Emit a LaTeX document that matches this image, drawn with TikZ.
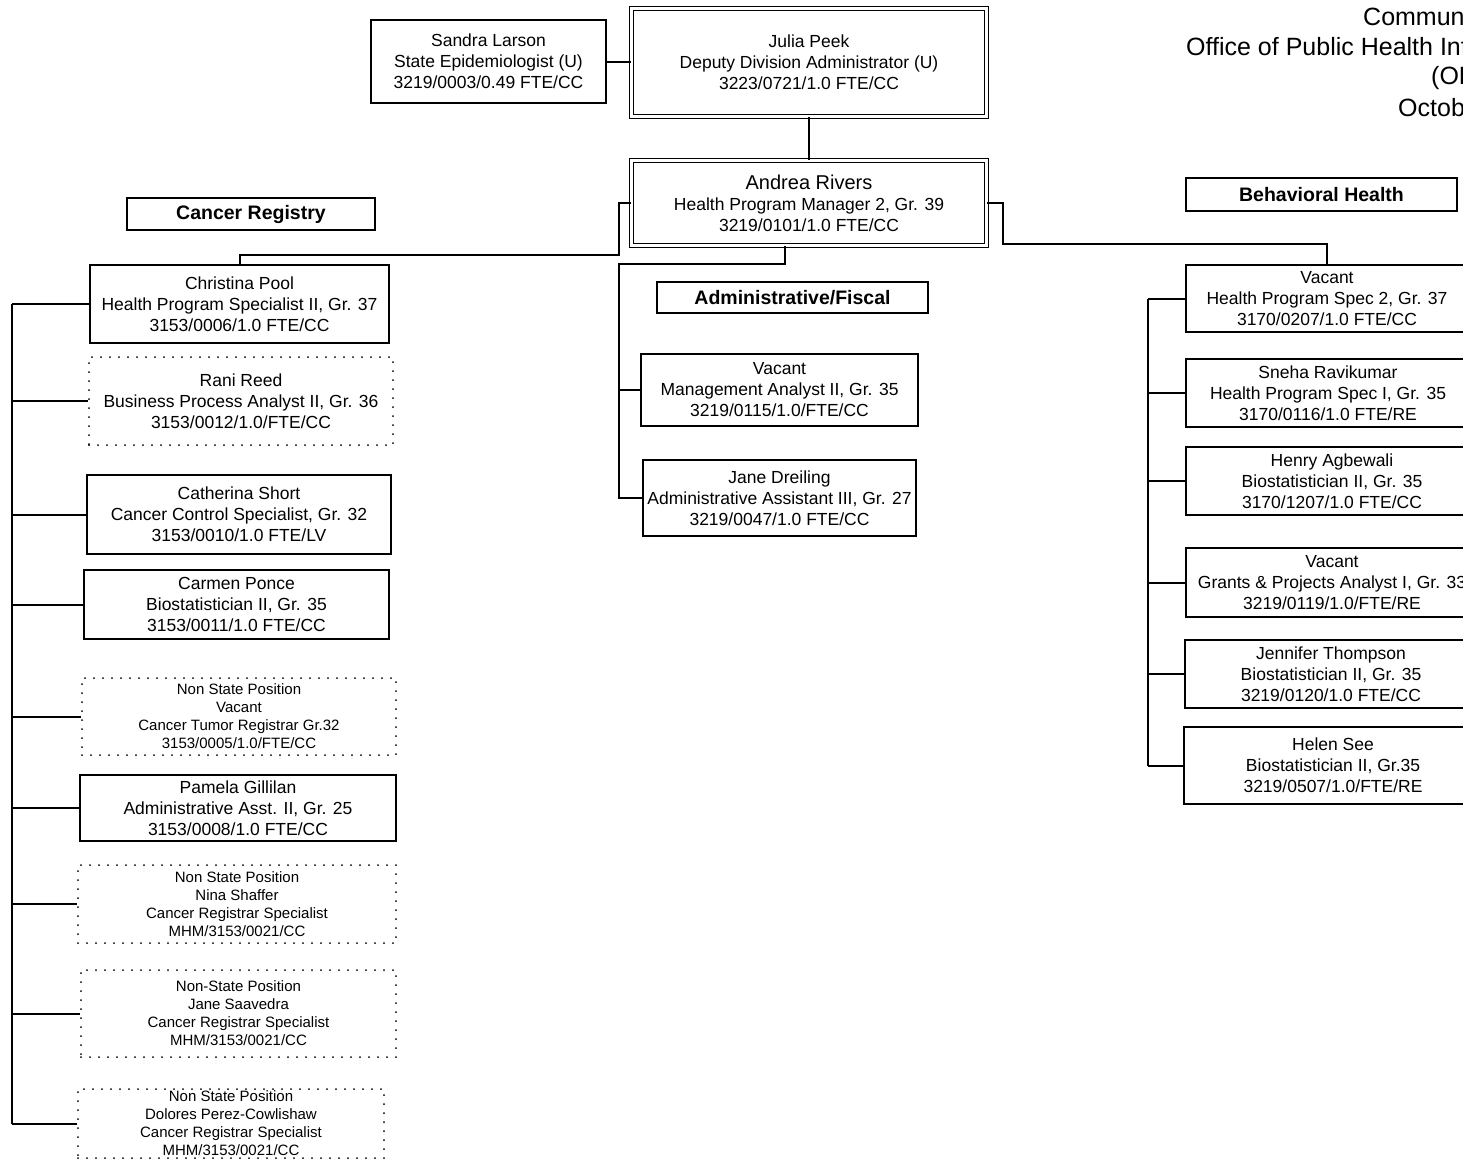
\documentclass[tikz,border=0pt]{standalone}
\usepackage{fontspec}
\setmainfont{Liberation Sans}
\newcommand\ocmf{\fontsize{17.5}{21}\selectfont}
\newcommand\ocsf{\fontsize{15}{18}\selectfont}
\newcommand\ochf{\fontsize{19.5}{22}\selectfont\bfseries}
\newcommand\octf{\fontsize{25}{30}\selectfont}
\begin{document}
\begin{tikzpicture}[x=1pt,y=-1pt,
  pbox/.style={draw, line width=2pt, align=center, inner sep=0pt, font=\ocmf},
  dbox/.style={draw, line width=2pt, dash pattern=on 0pt off 9pt, line cap=round, align=center, inner sep=0pt, font=\ocsf},
  dboxm/.style={dbox, font=\ocmf},
  dblbox/.style={draw, double, line width=1.6pt, double distance=2.6pt, align=center, inner sep=0pt, font=\ocmf},
  hbox/.style={draw, line width=1.6pt, inner sep=0pt, font=\ochf},
  conn/.style={line width=2pt},
  ttl/.style={anchor=west, inner sep=0pt, font=\octf}]
\useasboundingbox (0,0) rectangle (1463,1160);

% title (cut at page edge)
\node[ttl] (t1) at (1363,17) {Commun};
\node[ttl] (t2) at (1186,47) {Office of Public Health Inf};
\node[ttl] (t3) at (1431,78) {(OP};
\node[ttl] (t4) at (1398,108) {Octob};

% top
\node[pbox, minimum width=235, minimum height=83] (sl) at (488.5,61.5) {Sandra Larson\\State Epidemiologist (U)\\3219/0003/0.49 FTE/CC};
\node[dblbox, minimum width=355, minimum height=108] (jp) at (809,62.5) {Julia Peek\\Deputy Division Administrator (U)\\3223/0721/1.0 FTE/CC};
\node[dblbox, minimum width=355, minimum height=85] (ar) at (809,203) {{\fontsize{20}{23}\selectfont Andrea Rivers}\\Health Program Manager 2, Gr. 39\\3219/0101/1.0 FTE/CC};

% headers
\node[hbox, minimum width=248, minimum height=32] (cr) at (251,214) {Cancer Registry};
\node[hbox, minimum width=271, minimum height=31] (af) at (792.5,297.5) {Administrative/Fiscal};
\node[hbox, minimum width=271, minimum height=33] (bh) at (1321.5,194.5) {Behavioral Health};

% cancer registry
\node[pbox, minimum width=299, minimum height=78] (cp) at (239.5,304) {Christina Pool\\Health Program Specialist II, Gr. 37\\3153/0006/1.0 FTE/CC};
\node[dboxm, minimum width=304, minimum height=88] (rr) at (241,401) {Rani Reed\\Business Process Analyst II, Gr. 36\\3153/0012/1.0/FTE/CC};
\node[pbox, minimum width=304, minimum height=79] (cs) at (239,514.5) {Catherina Short\\Cancer Control Specialist, Gr. 32\\3153/0010/1.0 FTE/LV};
\node[pbox, minimum width=305, minimum height=69] (cpo) at (236.5,604.5) {Carmen Ponce\\Biostatistician II, Gr. 35\\3153/0011/1.0 FTE/CC};
\node[dbox, minimum width=314, minimum height=77] (nv) at (239,716.5) {Non State Position\\Vacant\\Cancer Tumor Registrar Gr.32\\3153/0005/1.0/FTE/CC};
\node[pbox, minimum width=316, minimum height=66] (pg) at (238,808) {Pamela Gillilan\\Administrative Asst. II, Gr. 25\\3153/0008/1.0 FTE/CC};
\node[dbox, minimum width=318, minimum height=78] (ns) at (237,904) {Non State Position\\Nina Shaffer\\Cancer Registrar Specialist\\MHM/3153/0021/CC};
\node[dbox, minimum width=315, minimum height=87] (js) at (238.5,1013.5) {Non-State Position\\Jane Saavedra\\Cancer Registrar Specialist\\MHM/3153/0021/CC};
\node[dbox, minimum width=306, minimum height=69] (dp) at (231,1123.5) {Non State Position\\Dolores Perez-Cowlishaw\\Cancer Registrar Specialist\\MHM/3153/0021/CC};

% administrative/fiscal
\node[pbox, minimum width=277, minimum height=72] (ma) at (779.5,390) {Vacant\\Management Analyst II, Gr. 35\\3219/0115/1.0/FTE/CC};
\node[pbox, minimum width=273, minimum height=76] (jd) at (779.5,498) {Jane Dreiling\\Administrative Assistant III, Gr. 27\\3219/0047/1.0 FTE/CC};

% behavioral health
\node[pbox, minimum width=282, minimum height=67] (r1) at (1327,298.5) {Vacant\\Health Program Spec 2, Gr. 37\\3170/0207/1.0 FTE/CC};
\node[pbox, minimum width=284, minimum height=68] (r2) at (1328,393) {Sneha Ravikumar\\Health Program Spec I, Gr. 35\\3170/0116/1.0 FTE/RE};
\node[pbox, minimum width=292, minimum height=68] (r3) at (1332,481) {Henry Agbewali\\Biostatistician II, Gr. 35\\3170/1207/1.0 FTE/CC};
\node[pbox, minimum width=292, minimum height=69] (r4) at (1332,582.5) {Vacant\\Grants \& Projects Analyst I, Gr. 33\\3219/0119/1.0/FTE/RE};
\node[pbox, minimum width=292, minimum height=68] (r5) at (1331,674) {Jennifer Thompson\\Biostatistician II, Gr. 35\\3219/0120/1.0 FTE/CC};
\node[pbox, minimum width=298, minimum height=77] (r6) at (1333,765.5) {Helen See\\Biostatistician II, Gr.35\\3219/0507/1.0/FTE/RE};

% connectors top
\draw[conn] (sl.east) -- (sl.east -| jp.west);
\draw[conn] (jp.south) -- (ar.north);

% to cancer registry
\coordinate (crj) at (cp.north |- 0,255);
\draw[conn] (ar.west) -- ++(-12,0) |- (crj) -- (cp.north);

% to behavioral health
\coordinate (bhj) at (r1.north |- 0,244);
\draw[conn] (ar.east) -- ++(16,0) |- (bhj) -- (r1.north);

% to administrative/fiscal
\coordinate (ab) at ([xshift=-24pt]ar.south);
\coordinate (mbus) at (619,498);
\draw[conn] (ab) -- ++(0,18) -| (mbus) -- (jd.west);
\draw[conn] (ma.west) -- (ma.west -| mbus);

% cancer registry bus
\coordinate (lbt) at (12,304);
\coordinate (lbb) at (12,1124);
\draw[conn] (lbt) -- (lbb);
\foreach \n in {cp,rr,cs,cpo,nv,pg,ns,js,dp}
  \draw[conn] (\n.west) -- (\n.west -| lbt);

% behavioral health bus
\coordinate (rbt) at (1148,298.5);
\coordinate (rbb) at (1148,765.5);
\draw[conn] (rbt) -- (rbb);
\foreach \n in {r1,r2,r3,r4,r5,r6}
  \draw[conn] (\n.west) -- (\n.west -| rbt);
\end{tikzpicture}
\end{document}
